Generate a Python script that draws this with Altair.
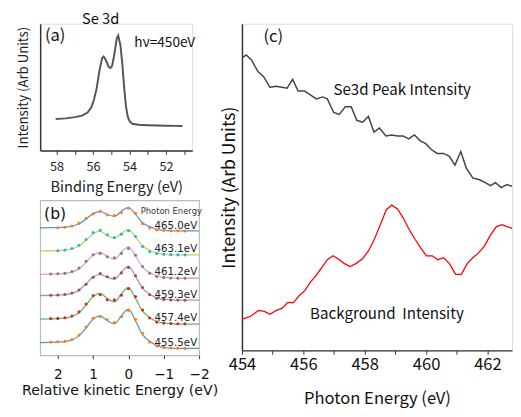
import altair as alt
import pandas as pd

FONT_JP = "Noto Sans CJK JP"
FONT_B = "DejaVu Sans"

# ---------------- Panel (a): Se 3d spectrum ----------------
a_be = [58.05, 57.5, 57.0, 56.6, 56.3, 56.1, 55.95, 55.8, 55.65, 55.5, 55.42, 55.3, 55.15,
        55.05, 54.95, 54.82, 54.7, 54.62, 54.5, 54.4, 54.3, 54.2, 54.1, 54.0, 53.85, 53.5,
        53.0, 52.5, 52.0, 51.5, 51.1]
a_int = [32.3, 33.0, 34.3, 35.8, 39.0, 44.0, 52.0, 64.0, 82.0, 95.0, 96.5, 93.0, 86.0,
         84.5, 87.0, 100.0, 115.0, 118.0, 108.0, 90.0, 66.0, 46.0, 35.0, 30.0, 27.5, 26.5,
         26.0, 25.7, 25.5, 25.3, 25.2]
a_major = [52, 54, 56, 58]
a_minor = [51, 53, 55, 57]
a_text = ["(a)", "h\u03bd=450eV"]
a_text_x = [58.64, 53.74]
a_text_y = [117, 110]
a_text_size = [17, 14]

# ---------------- Panel (b): spectra vs photon energy ----------------
b_series = ["465.0eV", "463.1eV", "461.2eV", "459.3eV", "457.4eV", "455.5eV"]
b_x = [2.5, 2.2, 2.0, 1.8, 1.6, 1.4, 1.2, 1.0, 0.8, 0.6, 0.4, 0.2, 0.0,
       -0.2, -0.4, -0.6, -0.8, -1.0, -1.2, -1.4, -1.6, -2.0]
b_fit_4650 = [130.7, 130.9, 131.0, 131.4, 132.4, 134.9, 139.8, 145.3, 147.3, 144.4, 142.5, 147.6, 151.8,
              144.5, 136.0, 131.9, 129.2, 128.2, 127.7, 127.5, 127.5, 127.5]
b_fit_4631 = [107, 107.2, 107.4, 107.8, 109, 112, 118, 124.6, 127, 122.8, 120, 125, 129,
              121.2, 112.1, 107.7, 104.8, 103.8, 103.3, 103, 103, 103]
b_fit_4612 = [83, 83.2, 83.5, 83.9, 85.3, 88.6, 95.4, 102.8, 105.5, 101.3, 98.5, 105.7, 111.5,
              101.8, 90.4, 84.9, 81.3, 80, 79.3, 79, 79, 79]
b_fit_4593 = [61.3, 61.5, 61.7, 62.2, 63.5, 66.7, 73.2, 80.4, 83, 80, 78, 85.3, 91.3,
              80.9, 68.7, 62.8, 58.9, 57.5, 56.8, 56.5, 56.5, 56.5]
b_fit_4574 = [37, 37.3, 37.5, 38.1, 39.7, 43.6, 51.6, 60.3, 63.5, 58.2, 54.7, 63, 69.7,
              58.4, 45.2, 38.8, 34.6, 33.1, 32.4, 32, 32, 32]
b_fit_4555 = [13, 13.3, 13.6, 14.1, 15.8, 19.9, 28.1, 37.2, 40.5, 35.5, 32.2, 40.5, 47.3,
              35.2, 21.1, 14.3, 9.8, 8.2, 7.4, 7, 7, 7]

b_dot_x = [2.2, 2.0, 1.8, 1.6, 1.4, 1.2, 1.0, 0.8, 0.6, 0.4, 0.2, 0.0,
           -0.2, -0.4, -0.6, -0.8, -1.0, -1.2, -1.4, -1.6]
b_dot_4650 = [130.8, 131.3, 132.6, 135.5, 140.5, 145.0, 147.8, 144.0, 143.2, 146.5, 150.8,
              145.5, 135.0, 130.5, 128.5, 128.0, 127.8, 127.6, 127.4]          # from x=2.0
b_dot_4631 = [107.2, 107.9, 109.5, 112.8, 118.8, 125.8, 128.2, 123.5, 120.8, 124.2, 127.8,
              121.8, 111.5, 106.5, 104.4, 103.5, 103.2, 103.0, 103.0]          # from x=2.0
b_dot_4612 = [83.3, 83.6, 84.0, 85.8, 89.5, 96.5, 103.0, 104.5, 101.0, 100.0, 104.5, 109.5,
              102.5, 91.0, 84.2, 80.8, 79.8, 79.2, 79.0, 79.0]
b_dot_4593 = [61.5, 61.8, 62.4, 63.8, 67.0, 72.8, 80.0, 83.8, 80.5, 79.2, 84.5, 90.0,
              81.5, 69.5, 62.0, 58.5, 57.3, 56.8, 56.6, 56.5]
b_dot_4574 = [37.6, 37.8, 38.5, 40.2, 44.5, 52.5, 61.2, 62.0, 57.0, 56.8, 61.5, 68.2,
              60.2, 46.5, 38.2, 34.0, 33.0, 32.5, 32.3, 32.2]
b_dot_4555 = [13.5, 13.8, 14.3, 16.2, 20.8, 29.0, 37.8, 39.8, 36.5, 33.5, 39.5, 46.0,
              37.0, 22.5, 13.5, 9.5, 8.0, 7.5, 7.2, 7.0]
b_label_y = [128, 104, 80, 57, 33, 8]

line_colors = ["#1f77b4", "#bcbd22", "#e377c2", "#9467bd", "#2ca02c", "#1f77b4"]
dot_colors = ["#ff7f0e", "#17becf", "#7f7f7f", "#8c564b", "#d62728", "#ff7f0e"]

# ---------------- Panel (c): intensity vs photon energy ----------------
c_peak_e = [454.01, 454.14, 454.31, 454.52, 454.70, 454.91, 455.12, 455.30, 455.47, 455.65,
            455.83, 456.04, 456.23, 456.42, 456.63, 456.78, 456.99, 457.17, 457.37, 457.56,
            457.74, 457.93, 458.12, 458.30, 458.48, 458.69, 458.88, 459.07, 459.25, 459.43,
            459.62, 459.81, 459.99, 460.17, 460.36, 460.57, 460.76, 460.94, 461.13, 461.31,
            461.52, 461.74, 461.93, 462.10, 462.26, 462.45, 462.63, 462.83]
c_peak = [300, 303, 298, 286, 281, 270, 271, 270, 269, 278,
          266, 266, 262, 258, 260, 258, 244, 242, 250, 250,
          236, 234, 240, 224, 228, 220, 221, 220, 220, 217,
          221, 215, 212, 206, 202, 202, 199, 190, 204, 187,
          177, 175, 172, 169, 172, 167, 170, 168]
c_bg_e = [454.01, 454.28, 454.54, 454.73, 454.91, 455.12, 455.30, 455.49, 455.68, 455.86,
          456.04, 456.23, 456.42, 456.60, 456.78, 456.97, 457.17, 457.34, 457.52, 457.71,
          457.93, 458.12, 458.30, 458.51, 458.70, 458.88, 459.07, 459.25, 459.43, 459.64,
          459.83, 460.01, 460.20, 460.38, 460.57, 460.76, 460.96, 461.15, 461.34, 461.52,
          461.71, 461.90, 462.09, 462.29, 462.48, 462.63, 462.83]
c_bg = [32, 35, 41, 40, 37, 41, 43, 49, 49, 56,
        61, 70, 77, 85, 93, 97, 93, 89, 86, 89,
        94, 102, 113, 129, 144, 149, 145, 136, 125, 114,
        105, 97, 97, 93, 95, 89, 78, 78, 89, 95,
        100, 107, 118, 127, 129, 127, 125]
c_ticks = [454, 455, 456, 457, 458, 459, 460, 461, 462]
c_text = ["(c)", "Se3d Peak Intensity", "Background\u00a0 Intensity"]
c_text_x = [454.7, 456.98, 456.22]
c_text_y = [321, 267, 37]
c_text_size = [17, 15.5, 15.5]

# ================= build charts =================
axis_col = "#333333"
even_only = "datum.value % 2 == 0 ? datum.label : ''"

# ---- panel a
xa_scale = alt.Scale(domain=[58.9, 50.56], nice=False, zero=False)
ya_scale = alt.Scale(domain=[0, 130], nice=False)
xa = alt.X("x:Q", scale=xa_scale,
           axis=alt.Axis(values=a_major, orient="bottom",
                         title="Binding Energy (eV)", titleFontSize=15, titleFont=FONT_JP,
                         titleFontWeight="normal", titleColor="#222", titlePadding=7,
                         labelFont=FONT_JP, labelFontSize=13, labelColor="#222",
                         labelOverlap=False, labelFlush=False,
                         tickSize=4, tickColor=axis_col, domainColor=axis_col,
                         domainWidth=1.5, grid=False, labelPadding=6))
xa_minor = alt.X("x:Q", scale=xa_scale,
                 axis=alt.Axis(values=a_minor, orient="bottom", title=None, labels=False,
                               domain=False, tickSize=4, tickColor=axis_col, grid=False))
ya = alt.Y("y:Q", scale=ya_scale,
           axis=alt.Axis(title="Intensity (Arb Units)", titleFontSize=13.5, titleFont=FONT_JP,
                         titleFontWeight="normal", titleColor="#222", titlePadding=10,
                         ticks=False, labels=False, grid=False, domainColor=axis_col,
                         domainWidth=1.5))
ya_none = alt.Y("y:Q", scale=ya_scale, axis=None)
df_a = pd.DataFrame({"x": a_be, "y": a_int})
a_line = alt.Chart(df_a).mark_line(color="#555555", strokeWidth=2).encode(x=xa, y=ya)
df_at = pd.DataFrame({"t": a_text, "x": a_text_x, "y": a_text_y, "s": a_text_size})
a_txt = alt.Chart(df_at).mark_text(align="left", baseline="middle", font=FONT_JP,
                                   color="#111").encode(
    x=xa_minor, y=ya_none, text="t:N",
    size=alt.Size("s:Q", scale=None, legend=None))
chart_a = alt.layer(a_line, a_txt).resolve_axis(x="independent", y="independent").properties(
    width=156, height=130,
    title=alt.TitleParams("Se 3d", fontSize=15, font=FONT_JP, fontWeight="normal",
                          color="#111", anchor="middle", dx=-16, offset=-3))

# ---- panel b
rows = []
fits = [b_fit_4650, b_fit_4631, b_fit_4612, b_fit_4593, b_fit_4574, b_fit_4555]
for s, ys in zip(b_series, fits):
    for xv, yv in zip(b_x, ys):
        rows.append({"x": xv, "y": yv, "s": s})
df_bl = pd.DataFrame(rows)
drows = []
dots = [b_dot_4650, b_dot_4631, b_dot_4612, b_dot_4593, b_dot_4574, b_dot_4555]
for s, ys in zip(b_series, dots):
    xs = b_dot_x[len(b_dot_x) - len(ys):]
    for xv, yv in zip(xs, ys):
        drows.append({"x": xv, "y": yv, "s": s})
df_bd = pd.DataFrame(drows)

xb_scale = alt.Scale(domain=[2.5, -2], nice=False, zero=False)
yb_scale = alt.Scale(domain=[0, 159], nice=False)
xb = alt.X("x:Q", scale=xb_scale,
           axis=alt.Axis(values=[-2, -1, 0, 1, 2], title="Relative kinetic Energy (eV)",
                         titleFont=FONT_B, titleFontSize=14.5, titleFontWeight="normal",
                         titleColor="#111", titlePadding=3, labelFont=FONT_B,
                         labelFontSize=14, labelColor="#111", tickSize=3.5,
                         labelFlush=False, labelOverlap=False,
                         tickColor="#333", domain=False, grid=False, labelPadding=9))
yb = alt.Y("y:Q", scale=yb_scale, axis=None)
b_lines = alt.Chart(df_bl).mark_line(strokeWidth=1.3, opacity=0.75, interpolate="monotone").encode(
    x=xb, y=yb,
    color=alt.Color("s:N", scale=alt.Scale(domain=b_series, range=line_colors), legend=None),
    detail="s:N")
b_pts = alt.Chart(df_bd).mark_circle(size=10, opacity=1).encode(
    x=xb, y=yb,
    color=alt.Color("s:N", scale=alt.Scale(domain=b_series, range=dot_colors), legend=None))
df_blab = pd.DataFrame({"t": b_series, "y": b_label_y, "x": [-2] * 6})
b_lab = alt.Chart(df_blab).mark_text(align="right", baseline="bottom", font=FONT_B,
                                     fontSize=10.5, color="#222", dx=-2).encode(
    x=xb, y=yb, text="t:N")
df_bt1 = pd.DataFrame({"t": ["(b)"], "x": [2.39], "y": [145]})
df_bt2 = pd.DataFrame({"t": ["Photon Energy"], "x": [-2.08], "y": [148]})
b_t1 = alt.Chart(df_bt1).mark_text(align="left", baseline="middle", font=FONT_B,
                                   fontSize=16, color="#111").encode(x=xb, y=yb, text="t:N")
b_t2 = alt.Chart(df_bt2).mark_text(align="right", baseline="middle", font=FONT_B,
                                   fontSize=8.6, color="#333").encode(x=xb, y=yb, text="t:N")
chart_b = alt.layer(b_lines, b_pts, b_lab, b_t1, b_t2).resolve_scale(color="independent").properties(
    width=163, height=159, view=alt.ViewBackground(stroke="#bbbbbb", strokeWidth=1.2))

# ---- panel c
xc_scale = alt.Scale(domain=[454, 462.8], nice=False, zero=False)
yc_scale = alt.Scale(domain=[0, 335], nice=False)
xc = alt.X("x:Q", scale=xc_scale,
           axis=alt.Axis(values=c_ticks, labelExpr=even_only,
                         title="Photon Energy (eV)", titleFont=FONT_JP, titleFontSize=17,
                         titleFontWeight="normal", titleColor="#111", titlePadding=18,
                         labelFont=FONT_JP, labelFontSize=17, labelColor="#111",
                         labelOverlap=False, labelFlush=False,
                         tickSize=4, tickColor=axis_col, domainColor=axis_col,
                         domainWidth=1.5, grid=False, labelPadding=3))
yc = alt.Y("y:Q", scale=yc_scale,
           axis=alt.Axis(title="Intensity (Arb Units)", titleFont=FONT_JP, titleFontSize=18,
                         titleFontWeight="normal", titleColor="#111", titlePadding=4,
                         ticks=False, labels=False, grid=False, domainColor=axis_col,
                         domainWidth=1.5))
df_cp = pd.DataFrame({"x": c_peak_e, "y": c_peak})
df_cb = pd.DataFrame({"x": c_bg_e, "y": c_bg})
c_l1 = alt.Chart(df_cp).mark_line(color="#444444", strokeWidth=1.5, clip=True).encode(x=xc, y=yc)
c_l2 = alt.Chart(df_cb).mark_line(color="#ff0000", strokeWidth=1.3, clip=True).encode(x=xc, y=yc)
df_ct = pd.DataFrame({"t": c_text, "x": c_text_x, "y": c_text_y, "s": c_text_size})
c_txt = alt.Chart(df_ct).mark_text(align="left", baseline="middle", font=FONT_JP,
                                   color="#111").encode(
    x=xc, y=yc, text="t:N",
    size=alt.Size("s:Q", scale=None, legend=None))
chart_c = alt.layer(c_l1, c_l2, c_txt).properties(width=277, height=335)

left = alt.vconcat(chart_a, chart_b, spacing=51, bounds="flush")
chart = alt.hconcat(left, chart_c, spacing=207, bounds="flush").properties(
    padding={"left": 8, "top": -2, "right": 0, "bottom": 0}
).configure_view(stroke=None).configure(background="white")

chart.save("out.html", embed_options={"renderer": "svg", "actions": False})
